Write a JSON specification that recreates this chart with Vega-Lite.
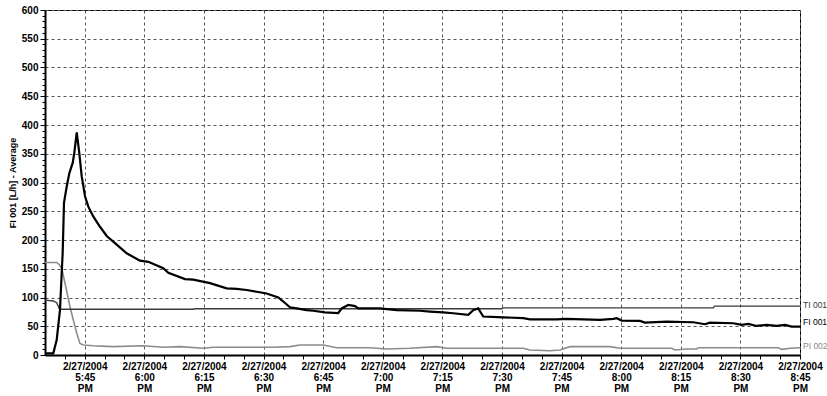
{
  "$schema": "https://vega.github.io/schema/vega-lite/v6.json",
  "width": 755,
  "height": 345,
  "autosize": {"type": "none"},
  "padding": {"left": 45, "top": 10, "right": 27, "bottom": 41},
  "config": {"view": {"stroke": "#000", "strokeWidth": 1}},
  "data": {"values": [
      {"s": "PI 002", "t": "2004-02-27T17:35:00Z", "v": 161},
      {"s": "PI 002", "t": "2004-02-27T17:37:56Z", "v": 161},
      {"s": "PI 002", "t": "2004-02-27T17:38:36Z", "v": 157},
      {"s": "PI 002", "t": "2004-02-27T17:39:12Z", "v": 151},
      {"s": "PI 002", "t": "2004-02-27T17:40:02Z", "v": 125},
      {"s": "PI 002", "t": "2004-02-27T17:41:17Z", "v": 84},
      {"s": "PI 002", "t": "2004-02-27T17:42:07Z", "v": 61},
      {"s": "PI 002", "t": "2004-02-27T17:42:59Z", "v": 38},
      {"s": "PI 002", "t": "2004-02-27T17:43:48Z", "v": 20},
      {"s": "PI 002", "t": "2004-02-27T17:44:38Z", "v": 17.4},
      {"s": "PI 002", "t": "2004-02-27T17:47:09Z", "v": 16},
      {"s": "PI 002", "t": "2004-02-27T17:50:32Z", "v": 15},
      {"s": "PI 002", "t": "2004-02-27T17:52:11Z", "v": 14.5},
      {"s": "PI 002", "t": "2004-02-27T17:59:44Z", "v": 16},
      {"s": "PI 002", "t": "2004-02-27T18:04:46Z", "v": 13.4},
      {"s": "PI 002", "t": "2004-02-27T18:08:58Z", "v": 14.5},
      {"s": "PI 002", "t": "2004-02-27T18:14:50Z", "v": 11.7},
      {"s": "PI 002", "t": "2004-02-27T18:17:21Z", "v": 13.4},
      {"s": "PI 002", "t": "2004-02-27T18:32:27Z", "v": 13.4},
      {"s": "PI 002", "t": "2004-02-27T18:36:39Z", "v": 14.5},
      {"s": "PI 002", "t": "2004-02-27T18:39:10Z", "v": 17.4},
      {"s": "PI 002", "t": "2004-02-27T18:45:02Z", "v": 17.4},
      {"s": "PI 002", "t": "2004-02-27T18:48:24Z", "v": 12.7},
      {"s": "PI 002", "t": "2004-02-27T18:56:47Z", "v": 12.7},
      {"s": "PI 002", "t": "2004-02-27T19:00:59Z", "v": 10.5},
      {"s": "PI 002", "t": "2004-02-27T19:06:51Z", "v": 11.7},
      {"s": "PI 002", "t": "2004-02-27T19:13:34Z", "v": 14.5},
      {"s": "PI 002", "t": "2004-02-27T19:16:05Z", "v": 11.7},
      {"s": "PI 002", "t": "2004-02-27T19:35:21Z", "v": 11.7},
      {"s": "PI 002", "t": "2004-02-27T19:37:02Z", "v": 8.7},
      {"s": "PI 002", "t": "2004-02-27T19:42:04Z", "v": 7.5},
      {"s": "PI 002", "t": "2004-02-27T19:44:35Z", "v": 8.7},
      {"s": "PI 002", "t": "2004-02-27T19:47:06Z", "v": 14.5},
      {"s": "PI 002", "t": "2004-02-27T19:57:11Z", "v": 14.5},
      {"s": "PI 002", "t": "2004-02-27T19:59:42Z", "v": 11.7},
      {"s": "PI 002", "t": "2004-02-27T20:12:42Z", "v": 11.7},
      {"s": "PI 002", "t": "2004-02-27T20:13:33Z", "v": 8.7},
      {"s": "PI 002", "t": "2004-02-27T20:16:29Z", "v": 10.5},
      {"s": "PI 002", "t": "2004-02-27T20:19:00Z", "v": 10.5},
      {"s": "PI 002", "t": "2004-02-27T20:19:25Z", "v": 12.7},
      {"s": "PI 002", "t": "2004-02-27T20:39:33Z", "v": 12.7},
      {"s": "PI 002", "t": "2004-02-27T20:40:24Z", "v": 9.8},
      {"s": "PI 002", "t": "2004-02-27T20:42:30Z", "v": 11.7},
      {"s": "PI 002", "t": "2004-02-27T20:45:00Z", "v": 12.7},
      {"s": "TI 001", "t": "2004-02-27T17:35:00Z", "v": 95.5},
      {"s": "TI 001", "t": "2004-02-27T17:37:05Z", "v": 94},
      {"s": "TI 001", "t": "2004-02-27T17:37:56Z", "v": 91},
      {"s": "TI 001", "t": "2004-02-27T17:38:36Z", "v": 81},
      {"s": "TI 001", "t": "2004-02-27T17:38:57Z", "v": 79.5},
      {"s": "TI 001", "t": "2004-02-27T18:12:19Z", "v": 79.5},
      {"s": "TI 001", "t": "2004-02-27T18:12:45Z", "v": 80.5},
      {"s": "TI 001", "t": "2004-02-27T19:29:56Z", "v": 80.5},
      {"s": "TI 001", "t": "2004-02-27T19:30:20Z", "v": 82},
      {"s": "TI 001", "t": "2004-02-27T20:23:10Z", "v": 82},
      {"s": "TI 001", "t": "2004-02-27T20:23:30Z", "v": 85},
      {"s": "TI 001", "t": "2004-02-27T20:45:00Z", "v": 85},
      {"s": "FI 001", "t": "2004-02-27T17:35:00Z", "v": 3},
      {"s": "FI 001", "t": "2004-02-27T17:37:05Z", "v": 3},
      {"s": "FI 001", "t": "2004-02-27T17:37:56Z", "v": 26},
      {"s": "FI 001", "t": "2004-02-27T17:38:46Z", "v": 78},
      {"s": "FI 001", "t": "2004-02-27T17:39:27Z", "v": 178},
      {"s": "FI 001", "t": "2004-02-27T17:39:47Z", "v": 265},
      {"s": "FI 001", "t": "2004-02-27T17:40:28Z", "v": 293},
      {"s": "FI 001", "t": "2004-02-27T17:41:07Z", "v": 316},
      {"s": "FI 001", "t": "2004-02-27T17:41:58Z", "v": 334},
      {"s": "FI 001", "t": "2004-02-27T17:42:22Z", "v": 351},
      {"s": "FI 001", "t": "2004-02-27T17:42:59Z", "v": 387},
      {"s": "FI 001", "t": "2004-02-27T17:43:38Z", "v": 351},
      {"s": "FI 001", "t": "2004-02-27T17:44:14Z", "v": 311},
      {"s": "FI 001", "t": "2004-02-27T17:45:04Z", "v": 276},
      {"s": "FI 001", "t": "2004-02-27T17:45:54Z", "v": 258},
      {"s": "FI 001", "t": "2004-02-27T17:47:09Z", "v": 241},
      {"s": "FI 001", "t": "2004-02-27T17:48:50Z", "v": 223},
      {"s": "FI 001", "t": "2004-02-27T17:50:32Z", "v": 207},
      {"s": "FI 001", "t": "2004-02-27T17:53:03Z", "v": 192},
      {"s": "FI 001", "t": "2004-02-27T17:55:33Z", "v": 177},
      {"s": "FI 001", "t": "2004-02-27T17:58:54Z", "v": 164},
      {"s": "FI 001", "t": "2004-02-27T18:01:00Z", "v": 162},
      {"s": "FI 001", "t": "2004-02-27T18:04:46Z", "v": 151},
      {"s": "FI 001", "t": "2004-02-27T18:06:02Z", "v": 143},
      {"s": "FI 001", "t": "2004-02-27T18:10:14Z", "v": 132},
      {"s": "FI 001", "t": "2004-02-27T18:12:19Z", "v": 131},
      {"s": "FI 001", "t": "2004-02-27T18:16:31Z", "v": 125},
      {"s": "FI 001", "t": "2004-02-27T18:20:43Z", "v": 116},
      {"s": "FI 001", "t": "2004-02-27T18:23:14Z", "v": 115},
      {"s": "FI 001", "t": "2004-02-27T18:25:45Z", "v": 113},
      {"s": "FI 001", "t": "2004-02-27T18:28:16Z", "v": 110},
      {"s": "FI 001", "t": "2004-02-27T18:30:47Z", "v": 107},
      {"s": "FI 001", "t": "2004-02-27T18:32:27Z", "v": 103},
      {"s": "FI 001", "t": "2004-02-27T18:33:43Z", "v": 100},
      {"s": "FI 001", "t": "2004-02-27T18:34:58Z", "v": 93},
      {"s": "FI 001", "t": "2004-02-27T18:36:39Z", "v": 83},
      {"s": "FI 001", "t": "2004-02-27T18:38:20Z", "v": 81},
      {"s": "FI 001", "t": "2004-02-27T18:40:51Z", "v": 78},
      {"s": "FI 001", "t": "2004-02-27T18:42:31Z", "v": 77},
      {"s": "FI 001", "t": "2004-02-27T18:45:28Z", "v": 74},
      {"s": "FI 001", "t": "2004-02-27T18:48:48Z", "v": 73},
      {"s": "FI 001", "t": "2004-02-27T18:49:40Z", "v": 81},
      {"s": "FI 001", "t": "2004-02-27T18:51:19Z", "v": 87},
      {"s": "FI 001", "t": "2004-02-27T18:53:01Z", "v": 85},
      {"s": "FI 001", "t": "2004-02-27T18:53:50Z", "v": 81},
      {"s": "FI 001", "t": "2004-02-27T18:59:18Z", "v": 81},
      {"s": "FI 001", "t": "2004-02-27T19:03:30Z", "v": 78},
      {"s": "FI 001", "t": "2004-02-27T19:09:22Z", "v": 77},
      {"s": "FI 001", "t": "2004-02-27T19:11:53Z", "v": 75.5},
      {"s": "FI 001", "t": "2004-02-27T19:15:12Z", "v": 74},
      {"s": "FI 001", "t": "2004-02-27T19:17:44Z", "v": 72.6},
      {"s": "FI 001", "t": "2004-02-27T19:21:30Z", "v": 69.7},
      {"s": "FI 001", "t": "2004-02-27T19:22:46Z", "v": 78},
      {"s": "FI 001", "t": "2004-02-27T19:24:01Z", "v": 81},
      {"s": "FI 001", "t": "2004-02-27T19:25:17Z", "v": 67},
      {"s": "FI 001", "t": "2004-02-27T19:30:19Z", "v": 65.6},
      {"s": "FI 001", "t": "2004-02-27T19:35:21Z", "v": 64},
      {"s": "FI 001", "t": "2004-02-27T19:37:02Z", "v": 62},
      {"s": "FI 001", "t": "2004-02-27T19:43:45Z", "v": 62},
      {"s": "FI 001", "t": "2004-02-27T19:46:16Z", "v": 62.7},
      {"s": "FI 001", "t": "2004-02-27T19:54:40Z", "v": 61},
      {"s": "FI 001", "t": "2004-02-27T19:58:01Z", "v": 62.7},
      {"s": "FI 001", "t": "2004-02-27T19:58:52Z", "v": 64},
      {"s": "FI 001", "t": "2004-02-27T20:00:08Z", "v": 59.8},
      {"s": "FI 001", "t": "2004-02-27T20:04:44Z", "v": 59.2},
      {"s": "FI 001", "t": "2004-02-27T20:05:59Z", "v": 56.3},
      {"s": "FI 001", "t": "2004-02-27T20:11:27Z", "v": 58},
      {"s": "FI 001", "t": "2004-02-27T20:18:09Z", "v": 57},
      {"s": "FI 001", "t": "2004-02-27T20:21:05Z", "v": 53.5},
      {"s": "FI 001", "t": "2004-02-27T20:22:20Z", "v": 56.3},
      {"s": "FI 001", "t": "2004-02-27T20:28:12Z", "v": 55.2},
      {"s": "FI 001", "t": "2004-02-27T20:30:19Z", "v": 52.3},
      {"s": "FI 001", "t": "2004-02-27T20:31:59Z", "v": 54},
      {"s": "FI 001", "t": "2004-02-27T20:34:05Z", "v": 50.5},
      {"s": "FI 001", "t": "2004-02-27T20:36:36Z", "v": 52.3},
      {"s": "FI 001", "t": "2004-02-27T20:39:07Z", "v": 50.5},
      {"s": "FI 001", "t": "2004-02-27T20:41:13Z", "v": 52.3},
      {"s": "FI 001", "t": "2004-02-27T20:42:54Z", "v": 49.3},
      {"s": "FI 001", "t": "2004-02-27T20:45:00Z", "v": 49.3}
  ]},
  "encoding": {
    "x": {
      "field": "t",
      "type": "temporal",
      "scale": {"type": "utc", "nice": false},
      "axis": {
        "title": null,
        "values": [1077903600000,1077903900000,1077904200000,1077904500000,1077904800000,1077905100000,1077905400000,1077905700000,1077906000000,1077906300000,1077906600000,1077906900000,1077907200000,1077907500000,1077907800000,1077908100000,1077908400000,1077908700000,1077909000000,1077909300000,1077909600000,1077909900000,1077910200000,1077910500000,1077910800000,1077911100000,1077911400000,1077911700000,1077912000000,1077912300000,1077912600000,1077912900000,1077913200000,1077913500000,1077913800000,1077914100000,1077914400000,1077914700000],
        "labelExpr": "utcminutes(datum.value) % 15 == 0 ? [utcFormat(datum.value, '%-m/%d/%Y'), utcFormat(datum.value, '%-I:%M'), utcFormat(datum.value, '%p')] : ''",
        "labelOverlap": false,
        "labelFlush": false,
        "labelFontWeight": "bold",
        "labelFontSize": 10,
        "labelLineHeight": 11,
        "labelColor": "#000",
        "labelPadding": 2,
        "tickSize": 4,
        "tickColor": "#000",
        "domainColor": "#000",
        "domainWidth": 2,
        "gridColor": "#555",
        "gridDash": [3, 3],
        "gridOpacity": {"condition": {"test": "utcminutes(datum.value) % 15 == 0", "value": 1}, "value": 0}
      }
    },
    "y": {
      "field": "v",
      "type": "quantitative",
      "scale": {"domain": [0, 600], "nice": false},
      "axis": {
        "title": "FI 001 [L/h] - Average",
        "titleFontSize": 9,
        "titleFontWeight": "bold",
        "titleColor": "#000",
        "titlePadding": 4,
        "values": [0,10,20,30,40,50,60,70,80,90,100,110,120,130,140,150,160,170,180,190,200,210,220,230,240,250,260,270,280,290,300,310,320,330,340,350,360,370,380,390,400,410,420,430,440,450,460,470,480,490,500,510,520,530,540,550,560,570,580,590,600],
        "labelExpr": "datum.value % 50 == 0 ? datum.label : ''",
        "labelOverlap": false,
        "labelFontWeight": "bold",
        "labelFontSize": 10,
        "labelColor": "#000",
        "labelPadding": 2,
        "tickSize": {"condition": {"test": "datum.value % 50 == 0", "value": 5}, "value": 3},
        "tickColor": "#000",
        "domainColor": "#000",
        "domainWidth": 2,
        "gridColor": "#555",
        "gridDash": [3, 3],
        "gridOpacity": {"condition": {"test": "datum.value % 50 == 0", "value": 1}, "value": 0}
      }
    }
  },
  "layer": [
    {
      "transform": [{"filter": "datum.s == 'PI 002'"}],
      "mark": {"type": "line", "color": "#8c8c8c", "strokeWidth": 1.6}
    },
    {
      "transform": [{"filter": "datum.s == 'TI 001'"}],
      "mark": {"type": "line", "color": "#3a3a3a", "strokeWidth": 1.4}
    },
    {
      "transform": [{"filter": "datum.s == 'FI 001'"}],
      "mark": {"type": "line", "color": "#000", "strokeWidth": 2.2}
    },
    {
      "data": {"values": [
        {"s": "TI 001", "t": "2004-02-27T20:45:00Z", "v": 87, "c": "#3a3a3a"},
        {"s": "FI 001", "t": "2004-02-27T20:45:00Z", "v": 57, "c": "#000000"},
        {"s": "PI 002", "t": "2004-02-27T20:45:00Z", "v": 16, "c": "#8c8c8c"}
      ]},
      "mark": {"type": "text", "align": "left", "baseline": "middle", "dx": 3, "fontSize": 8.5},
      "encoding": {
        "text": {"field": "s", "type": "nominal"},
        "color": {"field": "c", "type": "nominal", "scale": null}
      }
    }
  ]
}
